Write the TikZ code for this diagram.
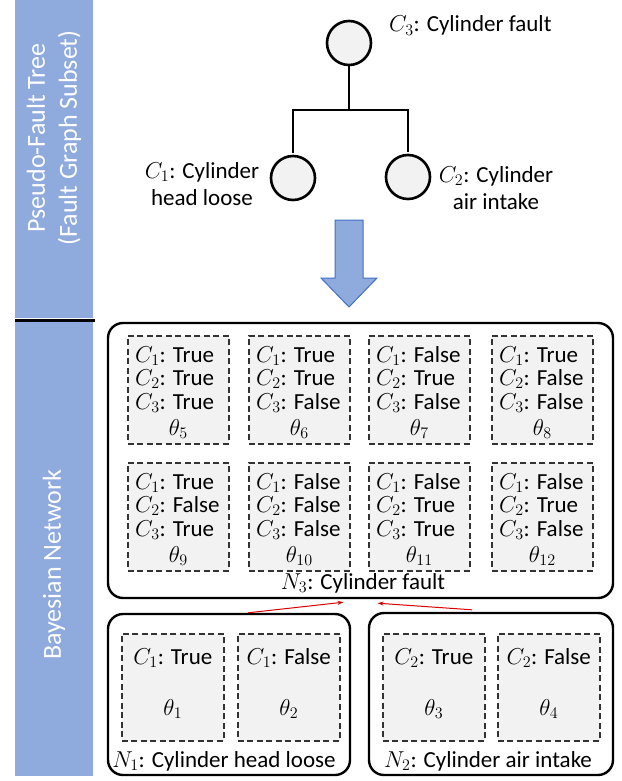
\RequirePackage{fix-cm}
\documentclass[tikz,border=0pt]{standalone}
\usepackage{fontspec}
\setmainfont{Carlito}
\usetikzlibrary{calc,arrows.meta}
\definecolor{barblue}{RGB}{143,170,220}
\definecolor{arrowedge}{RGB}{65,113,196}
\definecolor{boxgray}{RGB}{242,242,242}
\tikzset{
  txt/.style={font=\fontsize{23}{23}\selectfont, inner sep=0pt},
  bartxt/.style={font=\fontsize{26}{32}\selectfont, text=white, inner sep=0pt, rotate=90, align=center},
  dbox/.style={draw=black!80, fill=boxgray, dash pattern=on 6pt off 3.5pt, line width=1.6pt, inner sep=0pt},
  netbox/.style={draw=black, line width=2.4pt, rounded corners=15pt, inner sep=0pt},
  fnode/.style={circle, draw=black, fill=boxgray, line width=2.6pt, minimum size=44pt, inner sep=0pt},
  tree/.style={draw=black, line width=1.2pt},
  link/.style={draw=red!85!black, line width=1pt, -{Stealth[length=6pt,width=4pt]}}
}
\newcommand\threebox[7]{%
  \node[dbox, minimum width=101pt, minimum height=108pt, anchor=north west] (#1) at (#2,#3) {};
  \node[txt, anchor=base west] (#1a) at ($(#1.north west)+(8,27)$) {$C_1$: #4};
  \node[txt, anchor=base west] (#1b) at ($(#1.north west)+(8,50)$) {$C_2$: #5};
  \node[txt, anchor=base west] (#1c) at ($(#1.north west)+(8,74)$) {$C_3$: #6};
  \node[txt, anchor=base] (#1t) at ($(#1.north)+(0,100)$) {$\theta_{#7}$};
}
\newcommand\onebox[5]{%
  \node[dbox, minimum width=102pt, minimum height=107pt, anchor=north west] (#1) at (#2,#3) {};
  \node[txt, anchor=base] (#1a) at ($(#1.north)+(0,31)$) {#4};
  \node[txt, anchor=base] (#1t) at ($(#1.north)+(0,82)$) {$\theta_{#5}$};
}
\begin{document}
\begin{tikzpicture}[x=1pt, y=-1pt]
\useasboundingbox (0,0) rectangle (621,781);
% side bars
\fill[barblue] (15,0) rectangle (93,318);
\draw[line width=3pt] (15,320) -- (95,320);
\fill[barblue] (15,322) rectangle (93,776);
\node[bartxt] (bt1) at (54,138) {Pseudo-Fault Tree\\(Fault Graph Subset)};
\node[bartxt] (bt2) at (54,565) {Bayesian Network};
% fault tree
\node[fnode] (c3) at (349,43) {};
\node[fnode] (c1) at (293,178) {};
\node[fnode] (c2) at (408,177) {};
\coordinate (j) at (349,110);
\draw[tree] (c3) -- (j);
\draw[tree, shorten >=2pt] (j) -| (c1);
\draw[tree, shorten >=2pt] (j) -| (c2);
\node[txt, anchor=base west] (l3) at (389,32) {$C_3$: Cylinder fault};
\node[txt, align=center, font=\fontsize{23}{27}\selectfont] (l1) at (202,184) {$C_1$: Cylinder\\head loose};
\node[txt, align=center, font=\fontsize{23}{27}\selectfont] (l2) at (496,188) {$C_2$: Cylinder\\air intake};
% big arrow
\draw[fill=barblue, draw=arrowedge, line width=1pt] (335,220) -- (363,220) -- (363,278) -- (377,278) -- (349,307) -- (321,278) -- (335,278) -- cycle;
% N3
\node[netbox, minimum width=505pt, minimum height=275pt] (N3) at (360.5,460.5) {};
\threebox{b5}{127}{335}{True}{True}{True}{5}
\threebox{b6}{248}{335}{True}{True}{False}{6}
\threebox{b7}{368}{335}{False}{True}{False}{7}
\threebox{b8}{491}{335}{True}{False}{False}{8}
\threebox{b9}{127}{462}{True}{False}{True}{9}
\threebox{b10}{248}{462}{False}{False}{False}{10}
\threebox{b11}{368}{462}{False}{True}{True}{11}
\threebox{b12}{491}{462}{False}{True}{False}{12}
\node[txt, anchor=base] (N3l) at (363,589) {$N_3$: Cylinder fault};
% N1, N2
\node[netbox, minimum width=242pt, minimum height=161pt] (N1) at (229,694.5) {};
\node[netbox, minimum width=244pt, minimum height=162pt] (N2) at (491,694) {};
\onebox{b1}{121}{633}{$C_1$: True}{1}
\onebox{b2}{237}{633}{$C_1$: False}{2}
\onebox{b3}{382}{633}{$C_2$: True}{3}
\onebox{b4}{497}{633}{$C_2$: False}{4}
\node[txt, anchor=base] (N1l) at (224,767) {$N_1$: Cylinder head loose};
\node[txt, anchor=base] (N2l) at (488,767) {$N_2$: Cylinder air intake};
% links
\draw[link] ($(N1.north)+(19,0)$) -- ($(N3.south)+(-17,3)$);
\draw[link] ($(N2.north)+(-19,-2)$) -- ($(N3.south)+(17,4)$);
\end{tikzpicture}
\end{document}
